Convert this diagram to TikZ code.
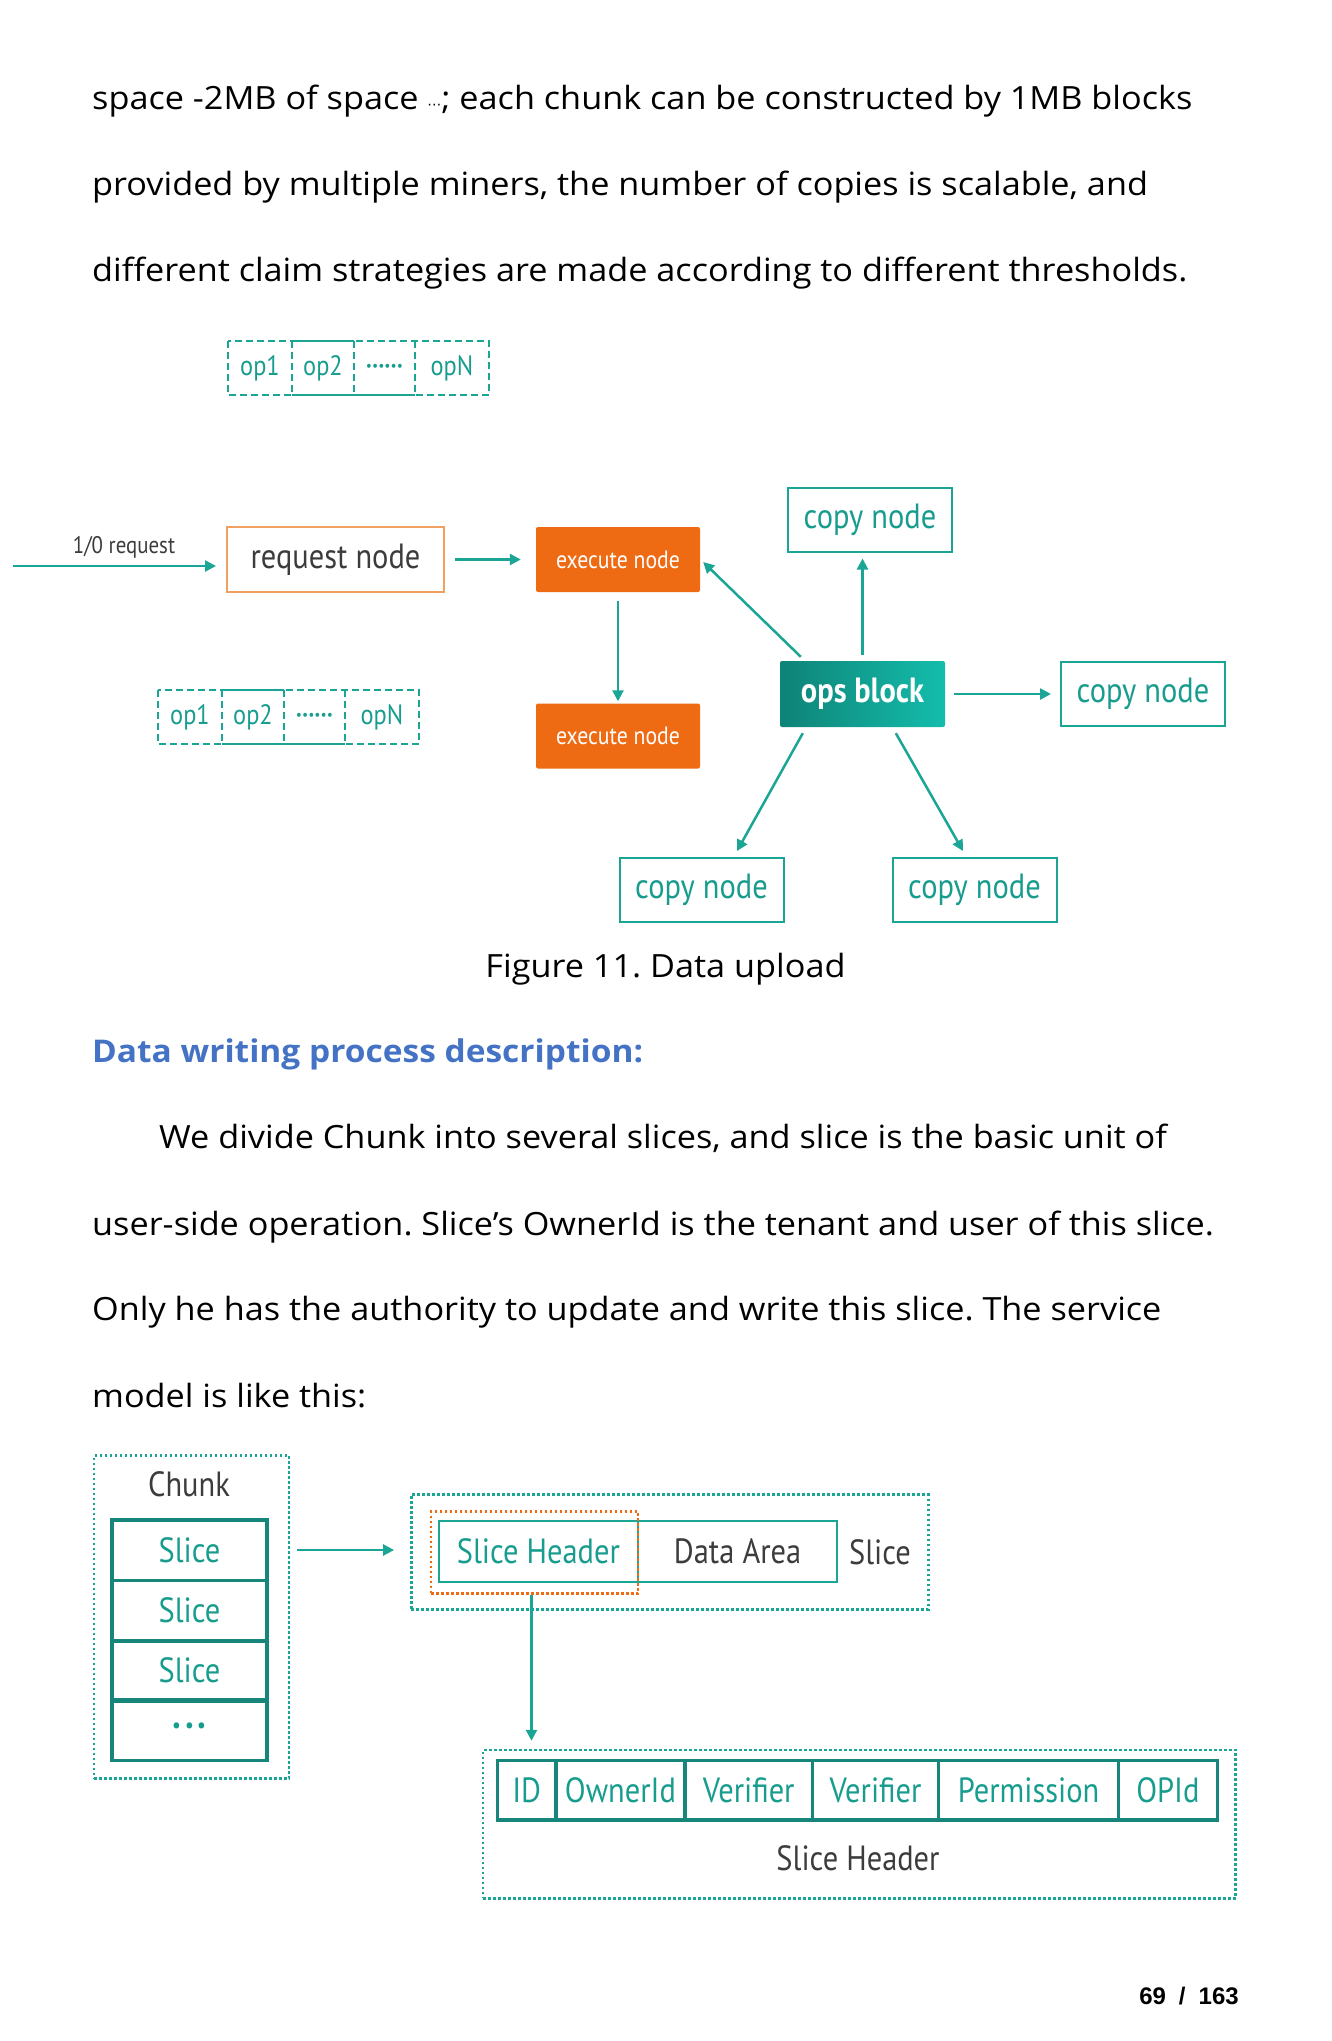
\documentclass[tikz,border=0pt]{standalone}
\usepackage{fontspec}
\setmainfont[FakeStretch=1.07]{Open Sans}
\newfontfamily\cond[FakeStretch=0.87]{PT Sans}
\newfontfamily\pagefont{Liberation Sans}
\newfontfamily\dejavu{DejaVu Sans}
\usetikzlibrary{arrows.meta,calc}
\definecolor{tealA}{HTML}{1BA595}
\definecolor{tealT}{HTML}{189C8E}
\definecolor{tealD}{HTML}{17867A}
\definecolor{tealL}{HTML}{14BDAC}
\definecolor{tealK}{HTML}{0E8377}
\definecolor{orangeF}{HTML}{EF6B13}
\definecolor{orangeB}{HTML}{F0A060}
\definecolor{grayT}{HTML}{3C3C3C}
\definecolor{blueH}{HTML}{4472C4}
\newcommand\setfs[1]{\fontsize{#1}{#1}\selectfont}
\frenchspacing
\tikzset{
  arr/.style={draw=tealA, line width=2.5pt, -{Triangle[length=11pt,width=11pt]}},
  body/.style={anchor=west, inner sep=0pt, font=\setfs{32}, text height=24pt, text depth=8pt},
  copyn/.style={draw=tealA, line width=2pt, fill=white, text=tealT, font=\cond\setfs{35},
    minimum width=164pt, minimum height=64pt, inner sep=0pt},
  execn/.style={fill=orangeF, rounded corners=2pt, text=white, font=\cond\setfs{25},
    minimum width=164pt, minimum height=65pt, inner sep=0pt},
  opsn/.style={left color=tealK, right color=tealL, rounded corners=2pt, text=white,
    font=\cond\bfseries\setfs{35}, minimum width=165pt, minimum height=66pt, inner sep=0pt},
  reqn/.style={draw=orangeB, line width=2pt, fill=white, text=grayT, font=\cond\setfs{35},
    minimum width=217pt, minimum height=65pt, inner sep=0pt},
  opdash/.style={draw=tealA, line width=2pt, dash pattern=on 7pt off 4pt},
  opsolid/.style={draw=tealA, line width=2.5pt},
  optext/.style={text=tealT, font=\cond\setfs{28}, inner sep=0pt},
  dotbox/.style={draw=tealA, line width=2.5pt, dash pattern=on 2.5pt off 2.5pt, inner sep=0pt},
  odotbox/.style={draw=orangeF, line width=2.5pt, dash pattern=on 2.5pt off 2.5pt, inner sep=0pt},
  slicecell/.style={draw=tealD, line width=3.5pt, text=tealT, font=\cond\setfs{35},
    minimum width=155pt, minimum height=60.5pt, inner sep=0pt},
  thincell/.style={draw=tealA, line width=2pt, font=\cond\setfs{35},
    minimum height=61.3pt, minimum width=199.2pt, inner sep=0pt},
  hdrcell/.style={draw=tealD, line width=3.5pt, text=tealT, font=\cond\setfs{35},
    minimum height=59.9pt, inner sep=0pt},
  darktext/.style={text=grayT, font=\cond\setfs{35}, inner sep=0pt},
}
\newcommand\opsrow[3]{%
\begin{scope}[shift={(#1,#2)}]
\draw[opdash] (0,0) rectangle (261,54);
\draw[opdash] (64,0) -- (64,54) (126,0) -- (126,54) (187,0) -- (187,54);
\draw[opsolid] (64,0) -- (126,0) (64,54) -- (187,54);
\node[optext] (#3a) at (32,27) {op1};
\node[optext] (#3b) at (95,27) {op2};
\node[optext, font=\cond\bfseries\setfs{26}] (#3c) at (156.5,28) {·\hspace{0.5pt}·\hspace{0.5pt}·\hspace{0.5pt}·\hspace{0.5pt}·\hspace{0.5pt}·};
\node[optext] (#3d) at (224,27) {opN};
\end{scope}}
\begin{document}
\begin{tikzpicture}[x=1pt,y=-1pt]
\useasboundingbox (0,0) rectangle (1332,2041);
% ---------- body text ----------
\node[body] (l1) at (92,101.6) {space -2MB of space {\dejavu\setfs{14}⋯}; each chunk can be constructed by 1MB blocks};
\node[body] (l2) at (92,187.5) {provided by multiple miners, the number of copies is scalable, and};
\node[body] (l3) at (92,273.4) {different claim strategies are made according to different thresholds.};
% ---------- figure 11 ----------
\opsrow{228}{341}{ta}
\opsrow{158}{690}{tb}
\node[reqn] (req) at (335.5,559.5) {request node};
\node[execn] (ex1) at (618,559.5) {execute node};
\node[execn] (ex2) at (618,736) {execute node};
\node[opsn] (ops) at (862.5,694) {ops block};
\node[copyn] (ct) at (870,519.5) {copy node};
\node[copyn] (cr) at (1143,694) {copy node};
\node[copyn] (cbl) at (701.5,890) {copy node};
\node[copyn] (cbr) at (974.5,890) {copy node};
\coordinate (io) at (13,566);
\node[text=grayT, font=\cond\setfs{24}, inner sep=0pt] (iolbl) at (124,547) {1/0 request};
\draw[arr, shorten >=10pt] (io) -- (io -| req.west);
\draw[arr, shorten <=10pt, shorten >=15pt] (req.east) -- (ex1.west);
\draw[arr, shorten <=9pt, shorten >=2pt] (ex1.south) -- (ex2.north);
\draw[arr, shorten <=6pt, shorten >=6pt] (ops.north) -- (ops.north |- ct.south);
\draw[arr] ($(ops.north west)+(21,-4)$) -- ($(ex1.east)+(3,2.5)$);
\draw[arr, shorten <=9pt, shorten >=9pt] (ops.east) -- (cr.west);
\draw[arr] ($(ops.south west)+(23,6)$) -- ($(cbl.north)+(35.5,-6)$);
\draw[arr] ($(ops.south west)+(116,6)$) -- ($(cbr.north)+(-11.5,-6)$);
\node[inner sep=0pt, font=\setfs{32}] (cap) at (665.5,968.7) {Figure 11. Data upload};
% ---------- section ----------
\node[body, font=\bfseries\setfs{31.3}, text=blueH] (hd) at (92,1054.6) {Data writing process description:};
\node[body] (p1) at (159,1140.6) {We divide Chunk into several slices, and slice is the basic unit of};
\node[body] (p2) at (92,1227.8) {user-side operation. Slice's OwnerId is the tenant and user of this slice.};
\node[body] (p3) at (92,1312.4) {Only he has the authority to update and write this slice. The service};
\node[body] (p4) at (92,1399.7) {model is like this:};
% ---------- chunk diagram ----------
\node[dotbox, minimum width=195pt, minimum height=323pt] (chunk) at (191.5,1617) {};
\node[darktext] (chunklbl) at (189,1484) {Chunk};
\node[slicecell] (s1) at (189.5,1550) {Slice};
\node[slicecell] (s2) at (189.5,1610.5) {Slice};
\node[slicecell] (s3) at (189.5,1670.5) {Slice};
\node[slicecell, font=\cond\bfseries\setfs{40}] (s4) at (189.5,1730.3) {·\hspace{4pt}·\hspace{4pt}·};
\node[dotbox, minimum width=517pt, minimum height=114.6pt] (slicebox) at (669.85,1552) {};
\node[thincell, text=tealT] (shc) at (538.4,1551.35) {Slice Header};
\node[thincell, text=grayT] (dac) at (737.6,1551.35) {Data Area};
\node[odotbox, minimum width=207pt, minimum height=82pt] (orng) at (534.5,1552.6) {};
\node[darktext] (slicelbl) at (880,1552) {Slice};
\draw[arr, shorten <=7pt, shorten >=16pt] (chunk.east |- s1.center) -- (slicebox.west |- s1.center);
\node[dotbox, minimum width=752.6pt, minimum height=148.3pt] (hdrbox) at (859.3,1824.15) {};
\node[hdrcell, minimum width=58.6pt] (cid) at (526.7,1790.25) {ID};
\node[hdrcell, minimum width=128.9pt] (cown) at (620.45,1790.25) {OwnerId};
\node[hdrcell, minimum width=127.5pt] (cver1) at (748.65,1790.25) {Verifier};
\node[hdrcell, minimum width=126.3pt] (cver2) at (875.55,1790.25) {Verifier};
\node[hdrcell, minimum width=179.7pt] (cperm) at (1028.55,1790.25) {Permission};
\node[hdrcell, minimum width=99pt] (copid) at (1167.9,1790.25) {OPId};
\node[darktext] (hdrlbl) at (858,1858) {Slice Header};
\draw[arr, shorten >=8pt] ($(orng.south)+(-3,0)$) -- ($(orng.south |- hdrbox.north)+(-3,0)$);
% ---------- page number ----------
\node[inner sep=0pt, font=\pagefont\bfseries\setfs{24}] (pg) at (1189,1996) {69\hspace{13pt}/\hspace{13pt}163};
\end{tikzpicture}
\end{document}
